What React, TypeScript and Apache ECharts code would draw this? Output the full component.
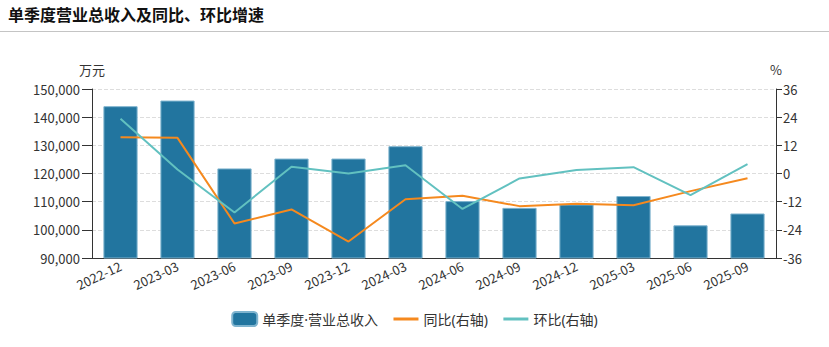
import React, { useEffect, useRef } from "react";
import * as echarts from "echarts";

const categories = [
  "2022-12", "2023-03", "2023-06", "2023-09", "2023-12", "2024-03",
  "2024-06", "2024-09", "2024-12", "2025-03", "2025-06", "2025-09",
];
const revenue = [
  143900, 145900, 121800, 125300, 125300, 129700,
  110200, 107800, 109000, 112000, 101600, 105800,
];
const yoy = [15.4, 15.2, -21.3, -15.3, -29.0, -11.0, -9.5, -13.9, -12.9, -13.5, -7.5, -2.0];
const qoq = [23.3, 1.7, -16.6, 2.9, 0.0, 3.5, -15.1, -2.1, 1.5, 2.7, -9.2, 4.0];

const titleText = "单季度营业总收入及同比、环比增速";
const seriesNames = ["单季度·营业总收入", "同比(右轴)", "环比(右轴)"];
const leftAxisName = "万元";
const rightAxisName = "%";

const FONT = "'Noto Sans CJK SC', 'Noto Sans', sans-serif";
const LEGEND_FONT = "'Noto Sans', 'Noto Sans CJK SC', sans-serif";

export default function App() {
  const ref = useRef<HTMLDivElement>(null);
  useEffect(() => {
    if (!ref.current) return;
    const chart = echarts.init(ref.current, null, { renderer: "svg" });
    chart.setOption({
      animation: false,
      textStyle: { fontFamily: FONT },
      graphic: [
        {
          type: "text",
          left: 8,
          top: 6,
          style: { text: titleText, font: `bold 16px ${FONT}`, fill: "#111" },
        },
        {
          type: "line",
          shape: { x1: 0, y1: 31.5, x2: 829, y2: 31.5 },
          style: { stroke: "#c4c4c4", lineWidth: 1 },
        },
      ],
      legend: {
        left: "center",
        top: 306,
        itemWidth: 25,
        itemHeight: 14,
        itemGap: 14,
        lineStyle: { width: 3 },
        textStyle: { fontSize: 14, color: "#333", fontFamily: LEGEND_FONT },
        data: [
          { name: seriesNames[0] },
          { name: seriesNames[1], itemStyle: { opacity: 0 }, lineStyle: { width: 3 } },
          { name: seriesNames[2], itemStyle: { opacity: 0 }, lineStyle: { width: 3 } },
        ],
      },
      grid: { left: 92, right: 53, top: 89, bottom: 89, containLabel: false },
      xAxis: {
        type: "category",
        data: categories,
        axisLine: { onZero: false, lineStyle: { color: "#333" } },
        axisTick: { alignWithLabel: true, length: 6, lineStyle: { color: "#333" } },
        axisLabel: { rotate: 25, fontSize: 13, color: "#333", margin: 7, fontFamily: FONT },
      },
      yAxis: [
        {
          type: "value",
          min: 90000,
          max: 150000,
          interval: 10000,
          name: leftAxisName,
          nameGap: 13,
          nameTextStyle: { fontSize: 13, color: "#333", fontFamily: FONT },
          axisLine: { show: true, lineStyle: { color: "#333" } },
          axisTick: { show: true, length: 10, lineStyle: { color: "#333" } },
          axisLabel: {
            fontSize: 13,
            color: "#333",
            margin: 12,
            fontFamily: FONT,
            formatter: (v: number) => v.toLocaleString("en-US"),
          },
          splitLine: { lineStyle: { type: "dashed", color: "#ddd" } },
        },
        {
          type: "value",
          min: -36,
          max: 36,
          interval: 12,
          name: rightAxisName,
          nameGap: 13,
          nameTextStyle: { fontSize: 13, color: "#333", fontFamily: FONT },
          axisLine: { show: true, lineStyle: { color: "#333" } },
          axisTick: { show: true, length: 6, lineStyle: { color: "#333" } },
          axisLabel: { fontSize: 13, color: "#333", margin: 7, fontFamily: FONT },
          splitLine: { show: false },
        },
      ],
      series: [
        {
          name: seriesNames[0],
          type: "bar",
          data: revenue,
          barWidth: "60%",
          itemStyle: { color: "#22759f", borderColor: "#7fb4cf", borderWidth: 1 },
        },
        {
          name: seriesNames[1],
          type: "line",
          yAxisIndex: 1,
          data: yoy,
          symbol: "none",
          lineStyle: { color: "#f5891e", width: 2 },
          itemStyle: { color: "#f5891e" },
        },
        {
          name: seriesNames[2],
          type: "line",
          yAxisIndex: 1,
          data: qoq,
          symbol: "none",
          lineStyle: { color: "#62c1c0", width: 2 },
          itemStyle: { color: "#62c1c0" },
        },
      ],
    });
    return () => chart.dispose();
  }, []);
  return (
    <div
      ref={ref}
      style={{ position: "absolute", left: 0, top: 0, width: 829, height: 347 }}
    />
  );
}
